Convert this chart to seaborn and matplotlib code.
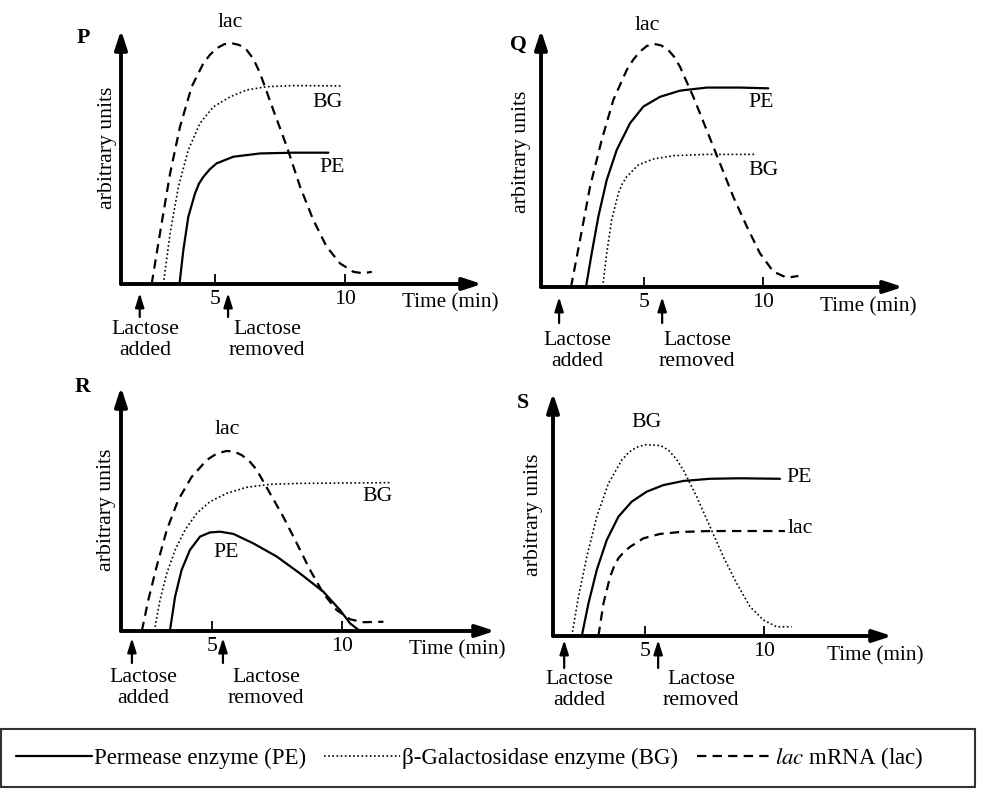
import matplotlib.pyplot as plt
import seaborn as sns
from matplotlib.patches import Rectangle

# curves: time (min) and level (arbitrary units, axis height = 10)
p_pe_t = [3.63, 3.78, 3.97, 4.23, 4.38, 4.55, 4.8, 5.06, 5.70, 6.73, 8.01, 9.36]
p_pe_y = [0, 1.34, 2.65, 3.57, 3.95, 4.22, 4.52, 4.75, 5.01, 5.14, 5.17, 5.17]
p_bg_t = [3.01, 3.27, 3.59, 3.97, 4.42, 4.94, 5.58, 6.22, 6.99, 8.01, 9.87]
p_bg_y = [0, 2.0, 3.83, 5.28, 6.33, 6.98, 7.37, 7.64, 7.77, 7.81, 7.80]
p_lac_t = [2.56, 2.88, 3.27, 3.65, 4.10, 4.55, 4.8, 5.06, 5.35, 5.64, 5.93, 6.22, 6.48,
           6.73, 7.24, 7.76, 8.27, 8.78, 9.29, 9.81, 10.32, 10.7, 11.03]
p_lac_y = [0, 2.0, 4.36, 6.19, 7.77, 8.69, 9.02, 9.28, 9.44, 9.48, 9.41, 9.21, 8.85,
           8.30, 6.85, 5.41, 3.83, 2.52, 1.47, 0.81, 0.48, 0.42, 0.48]

q_pe_t = [2.56, 2.80, 3.08, 3.43, 3.85, 4.41, 4.97, 5.67, 6.51, 7.63, 9.03, 10.22]
q_pe_y = [0, 1.31, 2.74, 4.16, 5.33, 6.37, 7.02, 7.40, 7.64, 7.76, 7.76, 7.73]
q_bg_t = [3.26, 3.43, 3.64, 3.92, 4.08, 4.27, 4.76, 5.39, 6.23, 7.63, 9.73]
q_bg_y = [0, 1.31, 2.61, 3.65, 4.0, 4.29, 4.75, 4.98, 5.11, 5.16, 5.16]
q_lac_t = [1.93, 2.31, 2.73, 3.22, 3.71, 4.27, 4.55, 4.83, 5.12, 5.42, 5.72, 6.02, 6.27,
           6.51, 7.07, 7.63, 8.19, 8.75, 9.32, 9.87, 10.43, 11.0, 11.48]
q_lac_y = [0, 1.83, 3.90, 5.72, 7.28, 8.44, 8.85, 9.16, 9.38, 9.46, 9.40, 9.22, 8.95,
           8.57, 7.40, 6.11, 4.81, 3.51, 2.35, 1.31, 0.60, 0.36, 0.43]

r_pe_t = [3.38, 3.58, 3.83, 4.15, 4.54, 4.92, 5.31, 5.82, 6.59, 7.49, 8.38, 9.28,
          9.92, 10.31, 10.69]
r_pe_y = [0, 1.41, 2.50, 3.32, 3.87, 4.04, 4.07, 3.98, 3.59, 3.05, 2.36, 1.61,
          0.86, 0.31, 0]
r_bg_t = [2.78, 3.0, 3.26, 3.58, 3.96, 4.41, 4.92, 5.56, 6.33, 7.23, 8.38, 11.85]
r_bg_y = [0, 1.27, 2.36, 3.32, 4.14, 4.82, 5.30, 5.64, 5.89, 6.01, 6.05, 6.08]
r_lac_t = [2.30, 2.55, 2.87, 3.26, 3.70, 4.22, 4.80, 5.18, 5.56, 5.86, 6.14, 6.43, 6.72,
           7.23, 7.74, 8.26, 8.77, 9.28, 9.79, 10.31, 10.82, 11.59]
r_lac_y = [0, 1.27, 2.64, 4.14, 5.37, 6.32, 7.01, 7.27, 7.38, 7.35, 7.21, 6.97, 6.60,
           5.64, 4.68, 3.59, 2.50, 1.54, 0.86, 0.48, 0.36, 0.38]

s_pe_t = [2.34, 2.62, 2.97, 3.39, 3.88, 4.44, 5.07, 5.77, 6.61, 7.73, 8.99, 10.67]
s_pe_y = [0, 1.34, 2.72, 3.95, 4.91, 5.53, 5.94, 6.21, 6.38, 6.47, 6.49, 6.47]
s_bg_t = [1.92, 2.20, 2.55, 2.97, 3.46, 4.02, 4.33, 4.65, 5.0, 5.35, 5.67, 5.98, 6.3,
          6.61, 7.17, 7.73, 8.29, 8.85, 9.41, 9.97, 10.53, 11.16]
s_bg_y = [0, 1.62, 3.26, 4.91, 6.28, 7.24, 7.57, 7.77, 7.87, 7.86, 7.83, 7.65, 7.3,
          6.83, 5.73, 4.50, 3.26, 2.17, 1.21, 0.66, 0.38, 0.38]
s_lac_t = [3.04, 3.25, 3.53, 3.7, 3.88, 4.1, 4.37, 4.93, 5.63, 6.47, 7.73, 10.88]
s_lac_y = [0, 1.34, 2.44, 2.87, 3.20, 3.45, 3.67, 4.02, 4.20, 4.28, 4.32, 4.32]

# lactose added / removed times (min)
added_t = [2.1, 1.43, 1.92, 1.6]
removed_t = [5.5, 5.76, 5.42, 5.55]

tick_vals = [5, 10]
tick_labels = ['5', '10']
legend_labels = ['Permease enzyme (PE)', 'β-Galactosidase enzyme (BG)',
                 r'$\mathit{lac}$ mRNA (lac)']

sns.set_style('white')
plt.rcParams['font.family'] = ['Liberation Serif', 'DejaVu Serif']
plt.rcParams['mathtext.fontset'] = 'stix'
plt.rcParams['text.color'] = 'k'
plt.rcParams['xtick.color'] = 'k'

W, H = 987, 790
FS = 15.7
fig = plt.figure(figsize=(W / 100, H / 100), dpi=100)

styles = {
    'PE': dict(color='k', lw=1.6, linestyle='-'),
    'BG': dict(color='k', lw=1.2, linestyle=(0, (1, 1.5))),
    'lac': dict(color='k', lw=1.6, linestyle=(0, (4.2, 2.8))),
}

# layout of each panel: box = (axis x, axis y, x-arrow tip, y-arrow top) in pixels
panels = [
    dict(letter='P', box=(121, 284, 482, 30), xlim=(1.38, 15.27),
         curves={'PE': (p_pe_t, p_pe_y), 'BG': (p_bg_t, p_bg_y), 'lac': (p_lac_t, p_lac_y)},
         labels=[('lac', 5.58, 10.28, 'center'), ('BG', 9.31, 7.13, 'center'),
                 ('PE', 9.5, 4.57, 'center')],
         letter_xy=(-0.08, 9.69), ylab_xy=(0.85, 5.35), time_xy=(14.04, -0.75),
         arr=(-9, -33), txt_dy=-56, dx=(6, 39)),
    dict(letter='Q', box=(541, 287, 903, 30), xlim=(0.67, 15.88),
         curves={'PE': (q_pe_t, q_pe_y), 'BG': (q_bg_t, q_bg_y), 'lac': (q_lac_t, q_lac_y)},
         labels=[('lac', 5.13, 10.19, 'center'), ('PE', 9.92, 7.16, 'center'),
                 ('BG', 10.0, 4.55, 'center')],
         letter_xy=(-0.29, 9.42), ylab_xy=(-0.13, 5.25), time_xy=(14.41, -0.78),
         arr=(-10, -36), txt_dy=-64, dx=(18, 35)),
    dict(letter='R', box=(121, 631, 495, 387), xlim=(1.5, 15.88),
         curves={'PE': (r_pe_t, r_pe_y), 'BG': (r_bg_t, r_bg_y), 'lac': (r_lac_t, r_lac_y)},
         labels=[('lac', 5.58, 8.24, 'center'), ('BG', 11.38, 5.53, 'center'),
                 ('PE', 5.54, 3.2, 'center')],
         letter_xy=(0.0, 10.0), ylab_xy=(0.96, 4.96), time_xy=(14.42, -0.78),
         arr=(-7, -32), txt_dy=-57, dx=(11, 43)),
    dict(letter='S', box=(553, 636, 892, 393), xlim=(1.13, 15.38),
         curves={'PE': (s_pe_t, s_pe_y), 'BG': (s_bg_t, s_bg_y), 'lac': (s_lac_t, s_lac_y)},
         labels=[('BG', 5.08, 8.77, 'center'), ('PE', 10.92, 6.54, 'left'),
                 ('lac', 11.0, 4.44, 'left')],
         letter_xy=(-0.13, 9.59), ylab_xy=(0.29, 4.98), time_xy=(14.66, -0.82),
         arr=(-4, -32), txt_dy=-54, dx=(15, 43)),
]

axis_arrow = dict(arrowstyle='-|>,head_length=0.8,head_width=0.26', lw=2.8, color='k',
                  shrinkA=0, shrinkB=0, mutation_scale=14)
event_arrow = dict(arrowstyle='-|>,head_length=0.7,head_width=0.22', lw=1.6, color='k',
                   shrinkA=0, shrinkB=0, mutation_scale=12)

axes = []
for i, pan in enumerate(panels):
    x0, y0, x1, y1 = pan['box']
    ax = fig.add_axes([x0 / W, 1 - y0 / H, (x1 - x0) / W, (y0 - y1) / H])
    axes.append(ax)
    for key, lab in zip(['PE', 'BG', 'lac'], legend_labels):
        tt, yy = pan['curves'][key]
        sns.lineplot(x=tt, y=yy, ax=ax, legend=False, label=lab, **styles[key])
    if ax.get_legend() is not None:
        ax.get_legend().remove()

    ax.set_xlim(*pan['xlim'])
    ax.set_ylim(0, 10)
    for s in ax.spines.values():
        s.set_visible(False)
    ax.set_xticks(tick_vals)
    ax.set_xticklabels(tick_labels)
    ax.set_yticks([])
    ax.tick_params(axis='x', direction='in', length=7, width=1.3, pad=4,
                   labelsize=FS, bottom=True, colors='k')
    ax.set_xlabel('')
    ax.set_ylabel('')

    # arrow-headed axes
    ax.annotate('', xy=(1, 0), xytext=(0, 0), xycoords='axes fraction',
                arrowprops=axis_arrow, annotation_clip=False)
    ax.annotate('', xy=(0, 1), xytext=(0, 0), xycoords='axes fraction',
                arrowprops=axis_arrow, annotation_clip=False)

    for txt, tx, ty, ha in pan['labels']:
        ax.text(tx, ty, txt, ha=ha, va='center', fontsize=FS)
    ax.text(*pan['letter_xy'], pan['letter'], ha='center', va='center',
            fontsize=FS, fontweight='bold')
    ax.text(*pan['ylab_xy'], 'arbitrary units', rotation=90, ha='center',
            va='center', fontsize=FS)
    ax.text(*pan['time_xy'], 'Time (min)', ha='center', va='center', fontsize=15.3)

    # lactose added / removed markers
    tip, tail = pan['arr']
    for t_ev, dx, txt in [(added_t[i], pan['dx'][0], 'Lactose\nadded'),
                          (removed_t[i], pan['dx'][1], 'Lactose\nremoved')]:
        ax.annotate('', xy=(t_ev, tip), xytext=(t_ev, tail),
                    xycoords=('data', 'axes pixels'), textcoords=('data', 'axes pixels'),
                    arrowprops=event_arrow, annotation_clip=False)
        ax.annotate(txt, xy=(t_ev, 0), xycoords=('data', 'axes pixels'),
                    xytext=(dx, pan['txt_dy']), textcoords='offset pixels',
                    ha='center', va='center', fontsize=FS, linespacing=1.1,
                    annotation_clip=False)

# legend box at the bottom
fig.patches.append(Rectangle((1 / W, 3 / H), 974 / W, 58 / H, transform=fig.transFigure,
                             fill=False, edgecolor='#333333', lw=1.5))
handles = axes[0].get_lines()[:3]
fig.legend(handles, legend_labels, loc='center left',
           bbox_to_anchor=(16 / W, 1 - 758 / H), ncol=3, frameon=False,
           fontsize=16.5, handlelength=3.3, handletextpad=0.1,
           borderaxespad=0, borderpad=0, columnspacing=0.8)

fig.savefig('out.png', dpi=100)
